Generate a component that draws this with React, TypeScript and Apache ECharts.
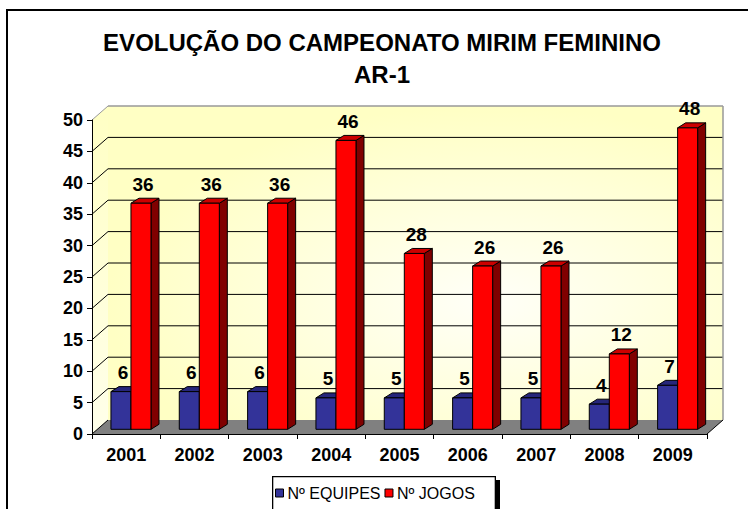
import React, { useEffect, useRef } from "react";
import * as echarts from "echarts";

const years = ["2001", "2002", "2003", "2004", "2005", "2006", "2007", "2008", "2009"];
const equipes = [6, 6, 6, 5, 5, 5, 5, 4, 7];
const jogos = [36, 36, 36, 46, 28, 26, 26, 12, 48];
const seriesNames = ["Nº EQUIPES", "Nº JOGOS"];
const titleLines = ["EVOLUÇÃO DO CAMPEONATO MIRIM FEMININO", "AR-1"];

const Y_MIN = 0;
const Y_MAX = 50;
const Y_STEP = 5;

const FONT = "Arial, 'Liberation Sans', sans-serif";
const WALL_DX = 16;
const WALL_DY = -14;
const BAR_SHIFT_X = 4.8;
const BAR_SHIFT_Y = -4.7;
const SIDE_DX = 8;
const SIDE_DY = -5;

const colors = [
  { front: "#333399", top: "#26267a", side: "#1c1c5c" },
  { front: "#FF0000", top: "#CC0000", side: "#800000" },
];

export default function App() {
  const ref = useRef<HTMLDivElement>(null);
  useEffect(() => {
    if (!ref.current) return;
    const chart = echarts.init(ref.current, null, { renderer: "svg" });

    const renderWalls = (params: any, api: any) => {
      const cs = params.coordSys;
      const x0 = cs.x;
      const x1 = cs.x + cs.width;
      const yt = cs.y;
      const yb = cs.y + cs.height;
      const children: any[] = [];
      children.push({
        type: "polygon",
        shape: { points: [[x0, yb], [x0, yt], [x0 + WALL_DX, yt + WALL_DY], [x0 + WALL_DX, yb + WALL_DY]] },
        style: {
          fill: new echarts.graphic.LinearGradient(0, 0, 0, 1, [
            { offset: 0, color: "#FFFFC4" },
            { offset: 1, color: "#FFFFEA" },
          ]),
          stroke: null,
        },
      });
      children.push({
        type: "rect",
        shape: { x: x0 + WALL_DX, y: yt + WALL_DY, width: cs.width, height: cs.height },
        style: {
          fill: new echarts.graphic.RadialGradient(0.62, 0.62, 0.62, [
            { offset: 0, color: "#FFFFF8" },
            { offset: 1, color: "#FFFFC4" },
          ]),
          stroke: null,
        },
      });
      children.push({
        type: "polygon",
        shape: { points: [[x0, yb], [x1, yb], [x1 + WALL_DX, yb + WALL_DY], [x0 + WALL_DX, yb + WALL_DY]] },
        style: { fill: "#808080", stroke: null },
      });
      for (let v = Y_MIN; v <= Y_MAX; v += Y_STEP) {
        const y = api.coord([0, v])[1];
        const isTop = v === Y_MAX;
        const col = isTop ? "#999999" : "#000000";
        if (v !== Y_MIN) {
          children.push({
            type: "line",
            shape: { x1: x0 + WALL_DX, y1: y + WALL_DY, x2: x1 + WALL_DX, y2: y + WALL_DY },
            style: { stroke: col, lineWidth: isTop ? 1.5 : 1 },
          });
        }
        children.push({
          type: "line",
          shape: { x1: x0, y1: y, x2: x0 + WALL_DX, y2: y + WALL_DY },
          style: { stroke: col, lineWidth: 1 },
        });
      }
      children.push({
        type: "line",
        shape: { x1: x1 + WALL_DX, y1: yt + WALL_DY, x2: x1 + WALL_DX, y2: yb + WALL_DY },
        style: { stroke: "#999999", lineWidth: 1.5 },
      });
      children.push({
        type: "line",
        shape: { x1: x1, y1: yb, x2: x1 + WALL_DX, y2: yb + WALL_DY },
        style: { stroke: "#000000", lineWidth: 1 },
      });
      return { type: "group", children };
    };

    const makeBarRenderer = (s: number) => (params: any, api: any) => {
      const i = api.value(0);
      const v = api.value(1);
      const base = api.coord([i, 0]);
      const topPt = api.coord([i, v]);
      const bandW = api.size([1, 0])[0];
      const barW = bandW * 0.293;
      const cx = base[0] + BAR_SHIFT_X;
      const left = s === 0 ? cx - barW : cx;
      const yBase = base[1] + BAR_SHIFT_Y;
      const yTop = topPt[1] + BAR_SHIFT_Y;
      const c = colors[s];
      const stroke = { stroke: "#000000", lineWidth: 1 };
      return {
        type: "group",
        children: [
          {
            type: "polygon",
            shape: {
              points: [
                [left + barW, yTop],
                [left + barW + SIDE_DX, yTop + SIDE_DY],
                [left + barW + SIDE_DX, yBase + SIDE_DY],
                [left + barW, yBase],
              ],
            },
            style: { fill: c.side, ...stroke },
          },
          {
            type: "polygon",
            shape: {
              points: [
                [left, yTop],
                [left + SIDE_DX, yTop + SIDE_DY],
                [left + barW + SIDE_DX, yTop + SIDE_DY],
                [left + barW, yTop],
              ],
            },
            style: { fill: c.top, ...stroke },
          },
          {
            type: "rect",
            shape: { x: left, y: yTop, width: barW, height: yBase - yTop },
            style: { fill: c.front, ...stroke },
          },
          {
            type: "text",
            x: left + barW / 2 + 2,
            y: yTop - 19,
            style: {
              text: String(v),
              fill: "#000000",
              font: `bold 19px ${FONT}`,
              align: "center",
              verticalAlign: "middle",
            },
            z2: 10,
          },
        ],
      };
    };

    const option: any = {
      animation: false,
      backgroundColor: "#ffffff",
      title: {
        text: titleLines.join("\n"),
        left: 377,
        textAlign: "center",
        top: 21,
        textStyle: {
          fontFamily: FONT,
          fontWeight: "bold",
          fontSize: 24,
          lineHeight: 32,
          color: "#000000",
        },
      },
      legend: {
        data: seriesNames,
        left: 275,
        top: 485,
        padding: 0,
        itemWidth: 8,
        itemHeight: 8,
        itemGap: 4,
        icon: "rect",
        z: 6,
        itemStyle: { borderColor: "#000000", borderWidth: 1 },
        textStyle: { fontFamily: FONT, fontSize: 16, color: "#000000", padding: [0, 0, 0, -1] },
      },
      graphic: [
        {
          type: "rect",
          shape: { x: 7, y: 10, width: 800, height: 600 },
          style: { fill: null, stroke: "#000000", lineWidth: 2 },
          z: 0,
        },
        {
          type: "rect",
          shape: { x: 277, y: 480, width: 223, height: 60 },
          style: { fill: "#000000" },
          z: 1,
        },
        {
          type: "rect",
          shape: { x: 272, y: 476, width: 224, height: 60 },
          style: { fill: "#000000" },
          z: 2,
        },
        {
          type: "rect",
          shape: { x: 273.3, y: 477.3, width: 221.4, height: 60 },
          style: { fill: "#ffffff" },
          z: 3,
        },
      ],
      grid: { left: 92, right: 41, top: 120, bottom: 75 },
      xAxis: {
        type: "category",
        data: years,
        z: 10,
        axisLine: { show: true, lineStyle: { color: "#000000", width: 1 } },
        axisTick: { show: true, alignWithLabel: false, length: 5, lineStyle: { color: "#000000" } },
        axisLabel: {
          margin: 12,
          fontFamily: FONT,
          fontWeight: "bold",
          fontSize: 18,
          color: "#000000",
        },
        splitLine: { show: false },
      },
      yAxis: {
        type: "value",
        min: Y_MIN,
        max: Y_MAX,
        interval: Y_STEP,
        z: 10,
        axisLine: { show: true, lineStyle: { color: "#000000", width: 1 } },
        axisTick: { show: true, length: 5, lineStyle: { color: "#000000" } },
        axisLabel: {
          margin: 9,
          fontFamily: FONT,
          fontWeight: "bold",
          fontSize: 18,
          color: "#000000",
        },
        splitLine: { show: false },
      },
      series: [
        {
          type: "custom",
          name: "walls",
          silent: true,
          z: 1,
          renderItem: renderWalls,
          data: [[0, 0]],
          encode: { x: 0, y: 1 },
        },
        {
          type: "custom",
          name: seriesNames[0],
          z: 3,
          itemStyle: { color: colors[0].front },
          renderItem: makeBarRenderer(0),
          data: equipes.map((v, i) => [i, v]),
          encode: { x: 0, y: 1 },
        },
        {
          type: "custom",
          name: seriesNames[1],
          z: 4,
          itemStyle: { color: colors[1].front },
          renderItem: makeBarRenderer(1),
          data: jogos.map((v, i) => [i, v]),
          encode: { x: 0, y: 1 },
        },
      ],
    };
    chart.setOption(option);
    return () => chart.dispose();
  }, []);

  return (
    <div
      ref={ref}
      style={{ position: "fixed", left: 0, top: 0, width: 748, height: 509, background: "#ffffff" }}
    />
  );
}
